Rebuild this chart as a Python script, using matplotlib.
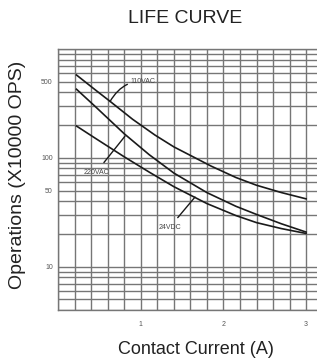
import numpy as np
import matplotlib
matplotlib.use("Agg")
import matplotlib.pyplot as plt
from matplotlib.ticker import FixedLocator, LogLocator, NullFormatter

plt.rcParams['font.family'] = ['Liberation Sans', 'DejaVu Sans']

# ---- data ----
current_110vac = [0.22, 0.45, 0.63, 0.9, 1.17, 1.4, 1.85, 2.15, 2.4, 2.7, 3.0]
ops_110vac = [577, 420, 329, 226, 162, 126, 84, 66, 56, 48, 42]

current_220vac = [0.22, 0.45, 0.8, 1.1, 1.4, 1.8, 2.15, 2.4, 2.7, 3.0]
ops_220vac = [427, 295, 166, 107, 72.4, 47.9, 35.9, 30.2, 24.8, 20.8]

current_24vdc = [0.22, 0.45, 0.8, 1.1, 1.4, 1.8, 2.15, 2.4, 2.7, 3.0]
ops_24vdc = [196, 151, 102, 74, 54.3, 38, 29.5, 25.4, 22.4, 20.2]

x_ticks = [1, 2, 3]
x_tick_labels = ["1", "2", "3"]
y_ticks = [10, 50, 100, 500]
y_tick_labels = ["10", "50", "100", "500"]

series_labels = ["110VAC", "220VAC", "24VDC"]

# ---- figure ----
W, H = 317, 361
fig = plt.figure(figsize=(W / 100, H / 100), dpi=100)
fig.patch.set_facecolor("white")
left, right, top, bottom = 58.3, 322.6, 49, 310
ax = fig.add_axes([left / W, 1 - bottom / H, (right - left) / W, (bottom - top) / H])

ax.set_yscale("log")
ax.set_xlim(0, 3.2)
ax.set_ylim(4, 1000)

grid_c = "#767676"
ax.xaxis.set_major_locator(FixedLocator(x_ticks))
ax.xaxis.set_minor_locator(FixedLocator(np.arange(0, 3.21, 0.2)))
ax.yaxis.set_major_locator(FixedLocator(y_ticks))
ax.yaxis.set_minor_locator(LogLocator(base=10, subs=np.arange(1, 10)))
ax.yaxis.set_minor_formatter(NullFormatter())
ax.set_xticklabels(x_tick_labels)
ax.set_yticklabels(y_tick_labels)
ax.grid(True, which="both", color=grid_c, linewidth=1.0)
ax.tick_params(which="both", length=0)
ax.tick_params(axis="y", labelsize=5, pad=4, colors="#555555")
ax.tick_params(axis="x", labelsize=5, pad=8, colors="#555555")
for s in ax.spines.values():
    s.set_color(grid_c)
    s.set_linewidth(1.0)
ax.spines["right"].set_visible(False)
ax.set_axisbelow(True)

lc = "#1a1a1a"
ax.plot(current_110vac, ops_110vac, color=lc, lw=1.2)
ax.plot(current_220vac, ops_220vac, color=lc, lw=1.2)
ax.plot(current_24vdc, ops_24vdc, color=lc, lw=1.2)

tc = "#444444"
ax.annotate(series_labels[0], xy=(0.626, 329), xytext=(0.87, 508),
            fontsize=5, color=tc, ha="left", va="center",
            arrowprops=dict(arrowstyle="-", color=lc, lw=1.0,
                            connectionstyle="angle3,angleA=0,angleB=60",
                            shrinkA=0, shrinkB=0))
ax.annotate(series_labels[1], xy=(0.807, 158), xytext=(0.46, 74),
            fontsize=5, color=tc, ha="center", va="center",
            arrowprops=dict(arrowstyle="-", color=lc, lw=1.0,
                            shrinkA=3, shrinkB=0))
ax.annotate(series_labels[2], xy=(1.655, 43.6), xytext=(1.35, 23.1),
            fontsize=5, color=tc, ha="center", va="center",
            arrowprops=dict(arrowstyle="-", color=lc, lw=1.0,
                            shrinkA=3, shrinkB=0))

fig.text(185 / W, 1 - 18.5 / H, "LIFE CURVE", fontsize=14, color="#222222",
         ha="center", va="center")
fig.text(196 / W, 1 - 350 / H, "Contact Current (A)", fontsize=13, color="#222222",
         ha="center", va="center")
fig.text(18 / W, 1 - 175 / H, "Operations (X10000 OPS)", fontsize=14, color="#222222",
         ha="center", va="center", rotation=90)

fig.savefig("out.png", dpi=100, facecolor="white")
